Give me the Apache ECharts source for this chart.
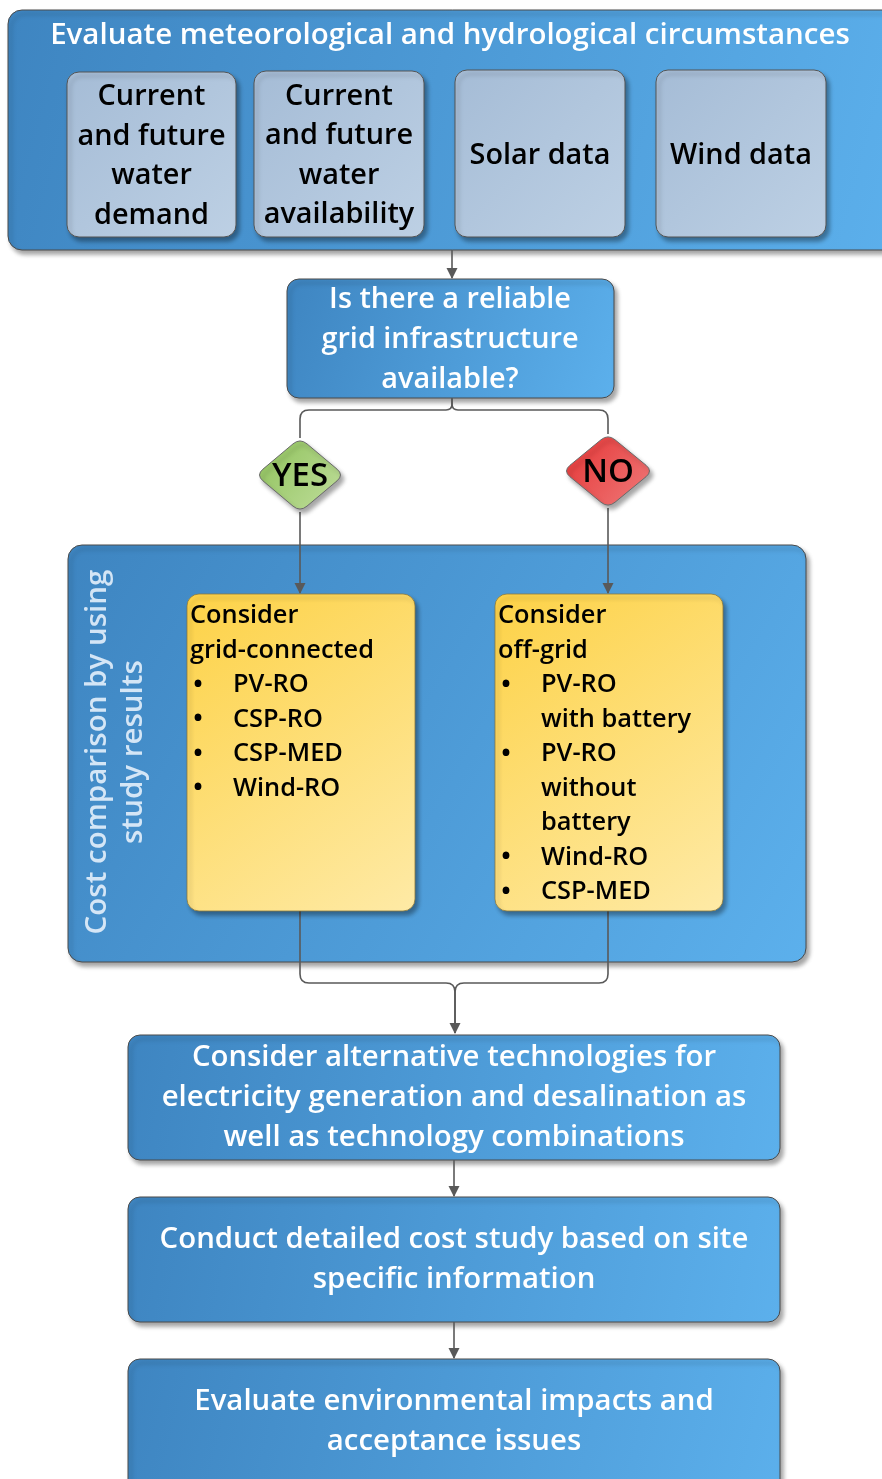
<!DOCTYPE html>
<html><head><meta charset="utf-8">
<script src="https://cdn.jsdelivr.net/npm/echarts@6/dist/echarts.min.js"></script>
<style>html,body{margin:0;padding:0;background:#fff;overflow:hidden}#c{width:882px;height:1479px}</style>
</head><body><div id="c"></div>
<script>
// ---------- content ----------
const headerTitle = 'Evaluate meteorological and hydrological circumstances';
const inputLabels = ['Current\nand future\nwater\ndemand', 'Current\nand future\nwater\navailability', 'Solar data', 'Wind data'];
const questionText = 'Is there a reliable\ngrid infrastructure\navailable?';
const decisionLabels = ['YES', 'NO'];
const groupLabel = 'Cost comparison by using\nstudy results';
const gridConnectedHead = ['Consider', 'grid-connected'];
const gridConnectedItems = [['PV-RO'], ['CSP-RO'], ['CSP-MED'], ['Wind-RO']];
const offGridHead = ['Consider', 'off-grid'];
const offGridItems = [['PV-RO', 'with battery'], ['PV-RO', 'without', 'battery'], ['Wind-RO'], ['CSP-MED']];
const stepTexts = [
  'Consider alternative technologies for\nelectricity generation and desalination as\nwell as technology combinations',
  'Conduct detailed cost study based on site\nspecific information',
  'Evaluate environmental impacts and\nacceptance issues'
];

// ---------- layout (diagram units = pixels of the 882x1479 canvas) ----------
const FONT = '"Open Sans", Lato, sans-serif';
const WEIGHT = 600;
const mctx = document.createElement('canvas').getContext('2d');
function fit(str, target) {
  mctx.font = WEIGHT + ' 100px ' + FONT;
  return 100 * target / mctx.measureText(str).width;
}
const SZ = {
  title: fit('Evaluate meteorological and hydrological circumstances', 800),
  input: fit('and future', 148),
  question: fit('Is there a reliable', 242),
  option: fit('grid-connected', 184),
  step: fit('electricity generation and desalination as', 585),
  group: fit('Cost comparison by using', 365),
  decision: fit('YES', 56)
};
const TY = 2; // text baseline nudge

const blueFill = () => new echarts.graphic.LinearGradient(0, 0, 1, 1, [{offset: 0, color: '#3e85c1'}, {offset: 1, color: '#5cb0ec'}]);
const grayFill = () => new echarts.graphic.LinearGradient(0, 0, 1, 1, [{offset: 0, color: '#a5bcd6'}, {offset: 1, color: '#bdd0e4'}]);
const yellowFill = () => new echarts.graphic.LinearGradient(0, 0, 1, 1, [{offset: 0, color: '#fdd247'}, {offset: 1, color: '#feeaa6'}]);
const SHADOW = {shadowBlur: 4, shadowOffsetX: 3, shadowOffsetY: 4, shadowColor: 'rgba(0,0,0,0.35)'};

const panelBoxes = [
  {x: 8, y: 10, w: 900, h: 240, r: 14, text: headerTitle, tx: 450, ty: 34, size: SZ.title},
  {x: 68, y: 545, w: 738, h: 417, r: 14, text: null},
  {x: 287, y: 279, w: 327, h: 119, r: 12, text: questionText, tx: 450, ty: 338, size: SZ.question, lh: 40},
  {x: 128, y: 1035, w: 652, h: 125, r: 12, text: stepTexts[0], tx: 454, ty: 1096, size: SZ.step, lh: 40},
  {x: 128, y: 1197, w: 652, h: 125, r: 12, text: stepTexts[1], tx: 454, ty: 1258, size: SZ.step, lh: 40},
  {x: 128, y: 1359, w: 652, h: 160, r: 12, text: stepTexts[2], tx: 454, ty: 1420, size: SZ.step, lh: 40}
];
const inputBoxes = [
  {x: 67, y: 72, w: 169, h: 165},
  {x: 254, y: 71, w: 170, h: 166},
  {x: 455, y: 70, w: 170, h: 167},
  {x: 656, y: 70, w: 170, h: 167}
];
const diamonds = [
  {cx: 300, cy: 475, w: 88, h: 74, c1: '#8ec15a', c2: '#c0de9c'},
  {cx: 608, cy: 471, w: 90, h: 74, c1: '#e43434', c2: '#f07a7a'}
];
const optionBoxes = [
  {x: 187, y: 594, w: 228, h: 317, head: gridConnectedHead, items: gridConnectedItems},
  {x: 495, y: 594, w: 228, h: 317, head: offGridHead, items: offGridItems}
];
const connectors = [
  {pts: [[452, 250], [452, 278]], arrow: true},
  {pts: [[452, 398], [452, 410], [300, 410], [300, 438]], arrow: false},
  {pts: [[452, 398], [452, 410], [608, 410], [608, 434]], arrow: false},
  {pts: [[300, 512], [300, 593]], arrow: true},
  {pts: [[608, 508], [608, 593]], arrow: true},
  {pts: [[300, 911], [300, 983], [455, 983], [455, 1033]], arrow: true},
  {pts: [[608, 911], [608, 983], [455, 983], [455, 1033]], arrow: false},
  {pts: [[454, 1160], [454, 1196]], arrow: true},
  {pts: [[454, 1322], [454, 1358]], arrow: true}
];

// ---------- helpers ----------
function roundedPath(api, pts, r) {
  const P = pts.map(p => api.coord(p));
  let d = 'M' + P[0][0] + ' ' + P[0][1];
  for (let i = 1; i < P.length - 1; i++) {
    const a = P[i - 1], b = P[i], c = P[i + 1];
    const l1 = Math.hypot(b[0] - a[0], b[1] - a[1]), l2 = Math.hypot(c[0] - b[0], c[1] - b[1]);
    const rr = Math.min(r, l1 / 2, l2 / 2);
    const p1 = [b[0] + (a[0] - b[0]) / l1 * rr, b[1] + (a[1] - b[1]) / l1 * rr];
    const p2 = [b[0] + (c[0] - b[0]) / l2 * rr, b[1] + (c[1] - b[1]) / l2 * rr];
    d += ' L' + p1[0] + ' ' + p1[1] + ' Q' + b[0] + ' ' + b[1] + ' ' + p2[0] + ' ' + p2[1];
  }
  const e = P[P.length - 1];
  d += ' L' + e[0] + ' ' + e[1];
  return d;
}
function rectOf(api, b) {
  const p = api.coord([b.x, b.y]);
  const s = api.size([b.w, b.h]);
  return {x: p[0], y: p[1], width: s[0], height: s[1]};
}
function textEl(api, str, x, y, opt) {
  const p = api.coord([x + (opt.rotation ? TY : 0), y + (opt.rotation ? 0 : TY)]);
  return {
    type: 'text', x: p[0], y: p[1], rotation: opt.rotation || 0, z2: 10,
    style: {
      text: str, x: 0, y: 0, fill: opt.fill || '#000', fontFamily: FONT,
      fontSize: opt.size || 24, fontWeight: WEIGHT,
      align: opt.align || 'center', verticalAlign: opt.va || 'middle',
      lineHeight: opt.lh || Math.round((opt.size || 24) * 1.4)
    }
  };
}

const base = {
  type: 'custom', coordinateSystem: 'cartesian2d', clip: false, silent: true,
  animation: false, xAxisIndex: 0, yAxisIndex: 0
};

const option = {
  backgroundColor: '#ffffff',
  animation: false,
  grid: {left: 0, right: 0, top: 0, bottom: 0},
  xAxis: {type: 'value', min: 0, max: 882, show: false},
  yAxis: {type: 'value', min: 0, max: 1479, inverse: true, show: false},
  series: [
    // blue panels + their texts
    Object.assign({}, base, {
      z: 2,
      data: panelBoxes.map((b, i) => [i]),
      renderItem(params, api) {
        const b = panelBoxes[api.value(0)];
        const r = rectOf(api, b);
        const children = [{
          type: 'rect', shape: Object.assign(r, {r: b.r}),
          style: Object.assign({fill: blueFill(), stroke: '#4a4a4a', lineWidth: 1}, SHADOW)
        }];
        if (b.text) children.push(textEl(api, b.text, b.tx, b.ty, {fill: '#ffffff', size: b.size, lh: b.lh}));
        if (api.value(0) === 1) {
          children.push(textEl(api, groupLabel, 114, 752, {fill: 'rgba(228,240,251,0.9)', size: SZ.group, lh: 36, rotation: Math.PI / 2}));
        }
        return {type: 'group', children};
      }
    }),
    // connectors (above panels, under boxes)
    Object.assign({}, base, {
      z: 3,
      data: connectors.map((c, i) => [i]),
      renderItem(params, api) {
        const c = connectors[api.value(0)];
        const children = [{
          type: 'path', shape: {pathData: roundedPath(api, c.pts, 9)},
          style: {fill: null, stroke: '#595959', lineWidth: 1.6}
        }];
        if (c.arrow) {
          const e = api.coord(c.pts[c.pts.length - 1]);
          children.push({
            type: 'polygon', shape: {points: [[e[0], e[1] + 1], [e[0] - 5.5, e[1] - 10], [e[0] + 5.5, e[1] - 10]]},
            style: {fill: '#595959'}
          });
        }
        return {type: 'group', children};
      }
    }),
    // gray input boxes
    Object.assign({}, base, {
      z: 4,
      data: inputBoxes.map((b, i) => [i]),
      renderItem(params, api) {
        const i = api.value(0);
        const b = inputBoxes[i];
        const r = rectOf(api, b);
        return {type: 'group', children: [
          {type: 'rect', shape: Object.assign(r, {r: 12}),
           style: Object.assign({fill: grayFill(), stroke: '#555555', lineWidth: 1}, SHADOW)},
          textEl(api, inputLabels[i], b.x + b.w / 2, b.y + b.h / 2, {size: SZ.input, lh: 39.5})
        ]};
      }
    }),
    // decision diamonds
    Object.assign({}, base, {
      z: 4,
      data: diamonds.map((d, i) => [i]),
      renderItem(params, api) {
        const i = api.value(0);
        const d = diamonds[i];
        const c = api.coord([d.cx, d.cy]);
        const s = api.size([d.w, d.h]);
        const k = 7;
        const hw = s[0] / 2, hh = s[1] / 2;
        const pd = 'M' + (c[0] - k) + ' ' + (c[1] - hh + k * hh / hw) +
          ' Q' + c[0] + ' ' + (c[1] - hh) + ' ' + (c[0] + k) + ' ' + (c[1] - hh + k * hh / hw) +
          ' L' + (c[0] + hw - k) + ' ' + (c[1] - k * hh / hw) +
          ' Q' + (c[0] + hw) + ' ' + c[1] + ' ' + (c[0] + hw - k) + ' ' + (c[1] + k * hh / hw) +
          ' L' + (c[0] + k) + ' ' + (c[1] + hh - k * hh / hw) +
          ' Q' + c[0] + ' ' + (c[1] + hh) + ' ' + (c[0] - k) + ' ' + (c[1] + hh - k * hh / hw) +
          ' L' + (c[0] - hw + k) + ' ' + (c[1] + k * hh / hw) +
          ' Q' + (c[0] - hw) + ' ' + c[1] + ' ' + (c[0] - hw + k) + ' ' + (c[1] - k * hh / hw) + ' Z';
        return {type: 'group', children: [
          {type: 'path', shape: {pathData: pd},
           style: Object.assign({
             fill: new echarts.graphic.LinearGradient(0, 0, 1, 1, [{offset: 0, color: d.c1}, {offset: 1, color: d.c2}]),
             stroke: '#6a6a6a', lineWidth: 1}, SHADOW)},
          textEl(api, decisionLabels[i], d.cx, d.cy, {size: SZ.decision})
        ]};
      }
    }),
    // yellow option boxes
    Object.assign({}, base, {
      z: 4,
      data: optionBoxes.map((b, i) => [i]),
      renderItem(params, api) {
        const b = optionBoxes[api.value(0)];
        const r = rectOf(api, b);
        const children = [{
          type: 'rect', shape: Object.assign(r, {r: 12}),
          style: Object.assign({fill: yellowFill(), stroke: '#8a7a40', lineWidth: 0.8}, SHADOW)
        }];
        const lh = 34.5;
        let y = b.y + 20;
        b.head.forEach(h => {
          children.push(textEl(api, h, b.x + 3, y, {size: SZ.option, align: 'left'}));
          y += lh;
        });
        b.items.forEach(item => {
          children.push(textEl(api, '\u2022', b.x + 11, y, {size: SZ.option * 1.1}));
          item.forEach(line => {
            children.push(textEl(api, line, b.x + 46, y, {size: SZ.option, align: 'left'}));
            y += lh;
          });
        });
        return {type: 'group', children};
      }
    })
  ]
};

const chart = echarts.init(document.getElementById('c'), null, {renderer: 'canvas'});
chart.setOption(option);
</script>
</body></html>
